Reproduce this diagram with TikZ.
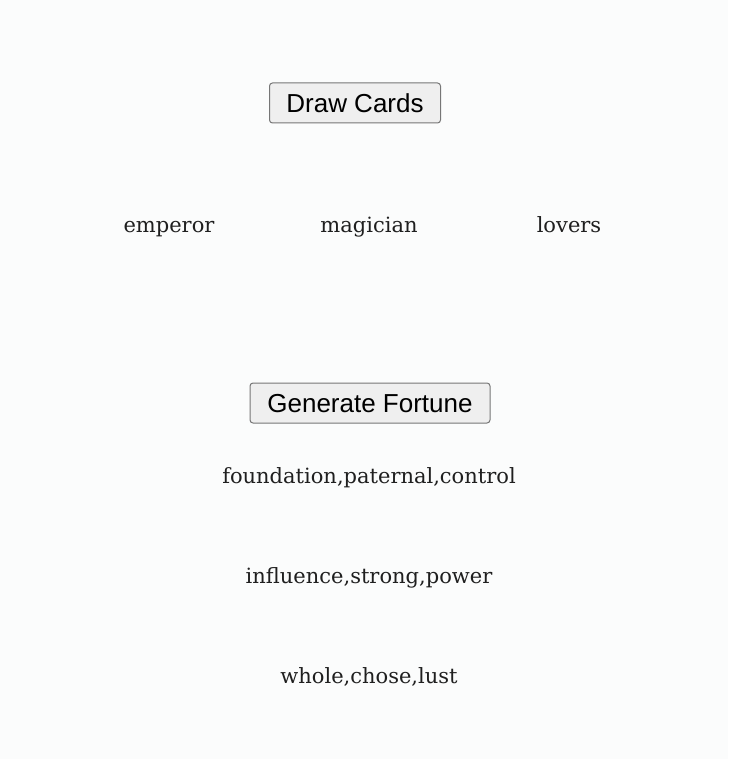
\documentclass[tikz,border=0pt]{standalone}
\usepackage{fontspec}
\setmainfont{DejaVu Serif}
\newfontfamily\btnfont{Liberation Sans}
\usepackage{tikz}
\definecolor{pagebg}{HTML}{FBFCFC}
\definecolor{btnfill}{HTML}{EFEFEF}
\definecolor{btnline}{HTML}{767676}
\tikzset{x=1pt, y=-1pt,
  button/.style={draw=btnline, fill=btnfill, rounded corners=3pt, line width=1pt,
    minimum height=40pt, inner xsep=0pt, text height=19pt, text depth=0pt,
    font=\btnfont\fontsize{26}{30}\selectfont},
  card/.style={anchor=base, inner sep=0pt, font=\fontsize{21}{25}\selectfont, text=black!88}}

\begin{document}
\begin{tikzpicture}
\fill[pagebg] (0,0) rectangle (728,759);
\useasboundingbox (0,0) rectangle (728,759);
\node[button, minimum width=171pt] (draw) at (355,103) {Draw Cards};
% the three cards
\node[card] (emperor) at (169,233) {emperor};
\node[card] (magician) at (369,233) {magician};
\node[card] (lovers) at (569,233) {lovers};
\node[button, minimum width=240pt] (fortune) at (370,403) {Generate Fortune};
% fortune lines
\node[card] (line1) at (369,483) {foundation,paternal,control};
\node[card] (line2) at (369,583) {influence,strong,power};
\node[card] (line3) at (369,683) {whole,chose,lust};
\end{tikzpicture}
\end{document}
